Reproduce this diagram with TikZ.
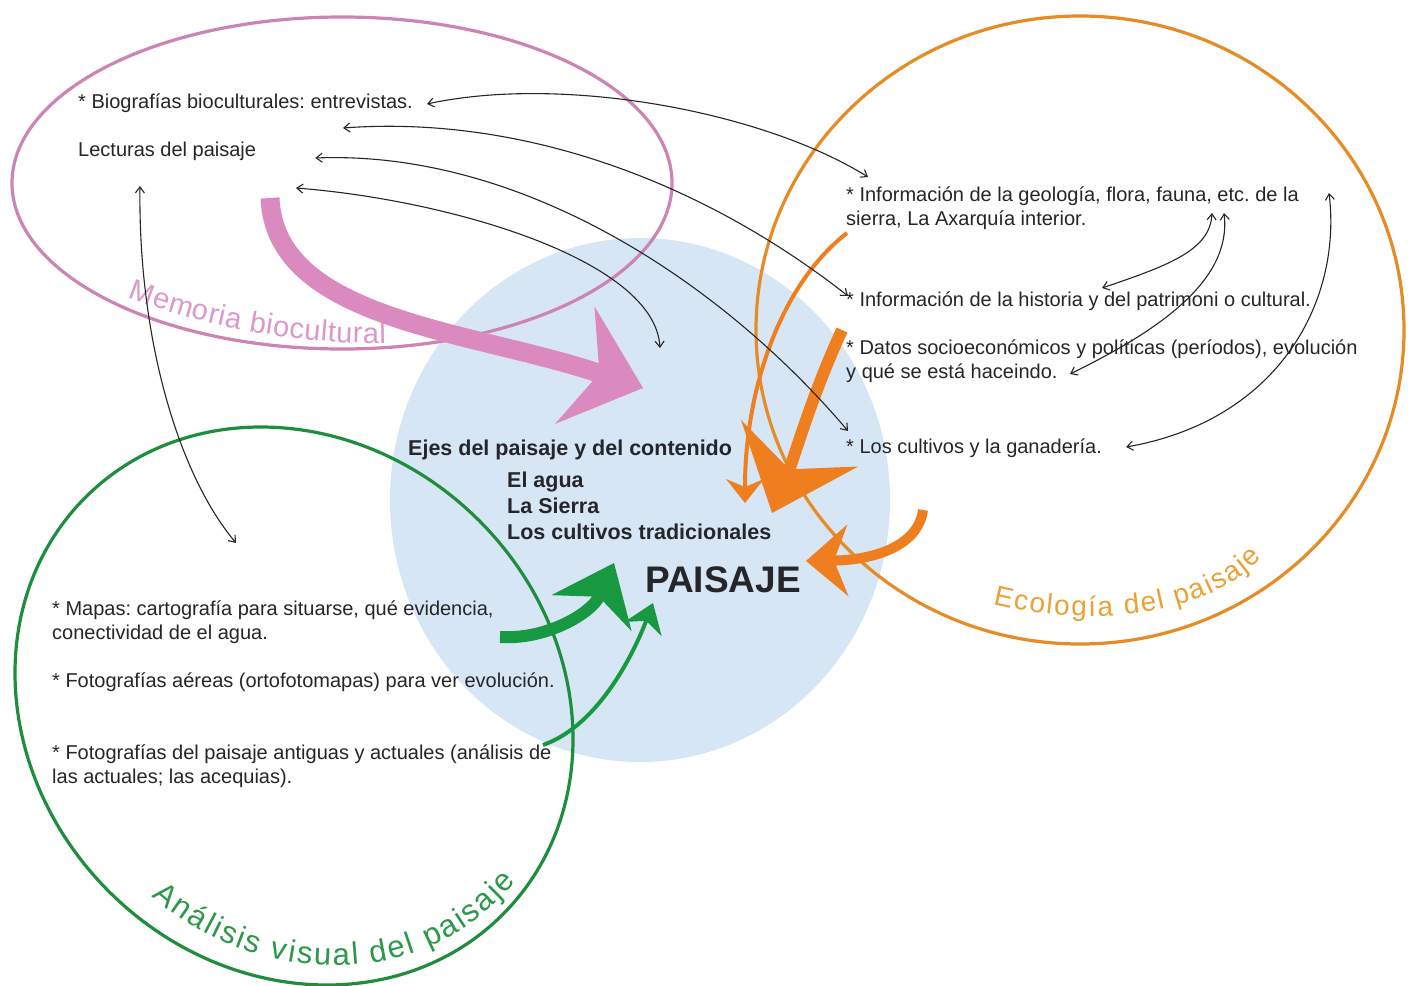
\documentclass[tikz,border=0pt]{standalone}
\usepackage{fontspec}
\setmainfont{Liberation Sans}
\usepackage{xcolor}
\usetikzlibrary{arrows.meta, decorations.text, calc}
\frenchspacing

\definecolor{fondo}{RGB}{214,230,245}
\definecolor{memo}{RGB}{204,132,180}
\definecolor{memolbl}{RGB}{220,152,202}
\definecolor{memoflecha}{RGB}{219,138,192}
\definecolor{eco}{RGB}{230,140,38}
\definecolor{ecolbl}{RGB}{234,162,52}
\definecolor{ecoflecha}{RGB}{238,126,30}
\definecolor{visual}{RGB}{30,142,62}
\definecolor{visuallbl}{RGB}{44,152,72}
\definecolor{visualflecha}{RGB}{24,152,64}
\definecolor{tinta}{RGB}{38,38,42}

\begin{document}
\begin{tikzpicture}[x=1pt, y=-1pt,
    txt/.style={font=\fontsize{20}{24}\selectfont, text=tinta, align=left, anchor=west, inner sep=0pt},
    eje/.style={font=\fontsize{21.5}{26}\selectfont\bfseries, text=tinta, align=left, anchor=west, inner sep=0pt},
    link/.style={draw=black!85, line width=1.1pt, >={Straight Barb[length=6pt,width=9pt]}, <->},
    borde/.style={line width=3.2pt}]

    % 1. fondo y circulo central
    \fill[white] (0,0) rectangle (1410,985);
    \useasboundingbox (0,0) rectangle (1410,985);
    \fill[fondo] (640,500) ellipse [x radius=250pt, y radius=262pt];

    % 2. los tres ambitos
    \draw[memo, borde] (342,183) ellipse [x radius=330pt, y radius=166pt];
    \draw[visual, borde, rotate around={-45:(294,706)}] (294,706) ellipse [x radius=295pt, y radius=262pt];
    \draw[eco, borde] (1080,330) ellipse [x radius=324pt, y radius=314pt];

    % 3. rotulos curvos
    \path[decorate, decoration={text along path, text align=fit to path, text color=memolbl,
        text={|\fontsize{29}{32}\selectfont|Memoria biocultural}}]
        (128,297) .. controls (200,326) and (300,345) .. (386,343);
    \path[decorate, decoration={text along path, text align=fit to path, text color=ecolbl,
        text={|\fontsize{28}{32}\selectfont|Ecología del paisaje}}]
        (993,604) .. controls (1090,628) and (1205,618) .. (1262,558);
    \path[decorate, decoration={text along path, text align=fit to path, text color=visuallbl,
        text={|\fontsize{31}{35}\selectfont|Análisis visual del paisaje}}]
        (152,896) .. controls (245,980) and (415,1002) .. (516,882);

    % 4. textos
    \node[txt] (bio) at (78,103) {* Biografías bioculturales: entrevistas.};
    \node[txt] (lect) at (78,151) {Lecturas del paisaje};
    \node[txt] (geo) at (846,208) {* Información de la geología, flora, fauna, etc. de la\\sierra, La Axarquía interior.};
    \node[txt] (hist) at (846,301) {* Información de la historia y del patrimoni o cultural.};
    \node[txt] (datos) at (846,361) {* Datos socioeconómicos y políticas (períodos), evolución\\y qué se está haceindo.};
    \node[txt] (cult) at (846,448) {* Los cultivos y la ganadería.};
    \node[eje] (ejes) at (408,450) {Ejes del paisaje y del contenido};
    \node[eje] (temas) at (507,506) {El agua\\La Sierra\\Los cultivos tradicionales};
    \node[font=\fontsize{37}{40}\selectfont\bfseries, text=tinta, anchor=west, inner sep=0pt] (paisaje) at (645,580) {PAISAJE};
    \node[txt] (mapas) at (52,622) {* Mapas: cartografía para situarse, qué evidencia,\\conectividad de el agua.};
    \node[txt] (aereas) at (52,682) {* Fotografías aéreas (ortofotomapas) para ver evolución.};
    \node[txt] (fotos) at (52,766) {* Fotografías del paisaje antiguas y actuales (análisis de\\las actuales; las acequias).};

    % 5. flechas gruesas hacia el paisaje
    \draw[memoflecha, line width=19pt, -{Stealth[length=72pt, width=124pt, inset=26pt, line width=0pt]}]
        (270,198) .. controls (275,320) and (470,330) .. (643,388);
    \draw[visualflecha, line width=12pt, -{Stealth[length=55pt, width=88pt, inset=18pt, line width=0pt]}]
        (500,637) .. controls (548,640) and (592,612) .. (614,563);
    \draw[visualflecha, line width=4pt, -{Stealth[length=28pt, width=40pt, inset=9pt, line width=0pt]}]
        (543,745) .. controls (600,725) and (635,650) .. (653,603);
    \draw[ecoflecha, line width=4pt, -{Stealth[length=24pt, width=38pt, inset=8pt, line width=0pt]}]
        (847,233) .. controls (780,285) and (745,390) .. (745,503);
    \draw[ecoflecha, line width=12pt, -{Stealth[length=75pt, width=126pt, inset=28pt, line width=0pt]}]
        (842,330) .. controls (812,395) and (795,455) .. (772,513);
    \draw[ecoflecha, line width=10pt, -{Stealth[length=42pt, width=72pt, inset=14pt, line width=0pt]}]
        (923,510) .. controls (918,548) and (870,560) .. (806,561);

    % 6. relaciones entre contenidos
    \coordinate (c1a) at ([shift={(14,1)}]bio.east);
    \coordinate (c1b) at ([shift={(22,-31)}]geo.west);
    \coordinate (c2a) at (343,128);
    \coordinate (c2b) at ([shift={(2,-5)}]hist.west);
    \coordinate (c3a) at ([shift={(59,7)}]lect.east);
    \coordinate (c3b) at ([shift={(2,-17)}]cult.west);
    \coordinate (c4a) at (296,188);
    \coordinate (c4b) at (660,348);
    \coordinate (c5a) at (140,186);
    \coordinate (c5b) at (236,543);
    \coordinate (r1a) at (1102,288);
    \coordinate (r1b) at (1212,213);
    \coordinate (r2a) at (1070,374);
    \coordinate (r2b) at (1224,213);
    \coordinate (r3a) at ([shift={(24,-1)}]cult.east);
    \coordinate (r3b) at (1329,193);

    \draw[link] (c1a) .. controls (560,75) and (760,110) .. (c1b);
    \draw[link] (c2a) .. controls (520,115) and (700,180) .. (c2b);
    \draw[link] (c3a) .. controls (520,150) and (720,280) .. (c3b);
    \draw[link] (c4a) .. controls (450,200) and (655,260) .. (c4b);
    \draw[link] (c5a) .. controls (138,330) and (175,470) .. (c5b);
    \draw[link] (r1a) .. controls (1170,265) and (1210,250) .. (r1b);
    \draw[link] (r2a) .. controls (1160,330) and (1232,280) .. (r2b);
    \draw[link] (r3a) .. controls (1280,420) and (1342,300) .. (r3b);
\end{tikzpicture}
\end{document}
